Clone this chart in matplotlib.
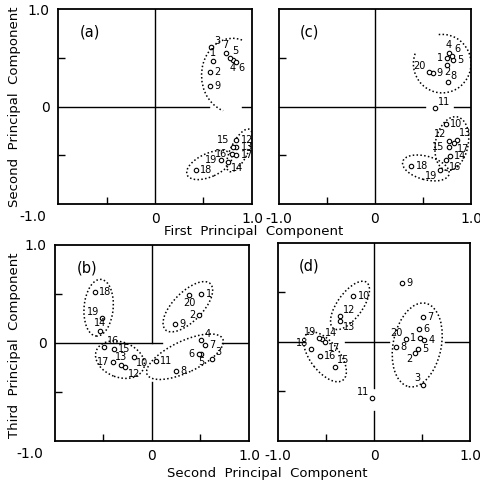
import matplotlib
matplotlib.use("Agg")
import matplotlib.pyplot as plt
from matplotlib.patches import Ellipse, Arc

# (a) first vs second principal component
ids_a = [1, 2, 3, 4, 5, 6, 7, 9, 12, 13, 14, 15, 16, 17, 18, 19]
pc1_a = [0.60, 0.57, 0.58, 0.80, 0.77, 0.83, 0.73, 0.57, 0.84, 0.84, 0.755, 0.80, 0.79, 0.84, 0.42, 0.68]
pc2_a = [0.47, 0.35, 0.61, 0.48, 0.50, 0.46, 0.55, 0.21, -0.34, -0.42, -0.57, -0.41, -0.49, -0.50, -0.65, -0.55]

# (c) first vs second principal component
ids_c = [1, 2, 4, 5, 6, 8, 9, 20, 11, 10, 12, 13, 17, 15, 14, 16, 18, 19]
pc1_c = [0.75, 0.75, 0.77, 0.81, 0.80, 0.76, 0.60, 0.56, 0.625, 0.74, 0.77, 0.85, 0.82, 0.77, 0.78, 0.74, 0.38, 0.68]
pc2_c = [0.50, 0.43, 0.55, 0.48, 0.52, 0.25, 0.34, 0.35, -0.02, -0.18, -0.35, -0.34, -0.37, -0.42, -0.51, -0.55, -0.61, -0.65]

# (b) second vs third principal component
ids_b = [1, 2, 3, 4, 5, 6, 7, 8, 9, 10, 11, 12, 13, 14, 15, 16, 17, 18, 19, 20]
pc2_b = [0.51, 0.49, 0.62, 0.51, 0.51, 0.48, 0.55, 0.25, 0.24, -0.19, 0.04, -0.28, -0.32, -0.54, -0.39, -0.49, -0.40, -0.59, -0.52, 0.385]
pc3_b = [0.50, 0.29, -0.16, 0.03, -0.11, -0.11, -0.02, -0.29, 0.19, -0.14, -0.18, -0.25, -0.22, 0.12, -0.06, -0.04, -0.19, 0.52, 0.25, 0.49]

# (d) second vs third principal component
ids_d = [1, 2, 3, 4, 5, 6, 7, 8, 9, 10, 11, 12, 13, 14, 15, 16, 17, 18, 19, 20]
pc2_d = [0.48, 0.43, 0.51, 0.52, 0.46, 0.47, 0.51, 0.23, 0.29, -0.215, -0.02, -0.35, -0.35, -0.545, -0.41, -0.56, -0.51, -0.66, -0.57, 0.33]
pc3_d = [0.04, -0.11, -0.43, 0.02, -0.07, 0.13, 0.25, -0.05, 0.60, 0.46, -0.57, 0.26, 0.215, 0.03, -0.25, -0.14, 0.00, -0.07, 0.04, 0.03]

# where each number sits relative to its circle
OFFS = {'r': (3, 0, 'left', 'center'), 'l': (-3, 0, 'right', 'center'),
        'u': (0, 2, 'center', 'bottom'), 'd': (0, -2, 'center', 'top'),
        'ur': (2, 1, 'left', 'bottom'), 'dr': (2, -1, 'left', 'top'),
        'ul': (-2, 1, 'right', 'bottom'), 'dl': (-2, -1, 'right', 'top')}

lab_a = {1: 'u', 2: 'r', 3: 'ur', 4: 'd', 5: 'ur', 6: 'dr', 7: 'u', 9: 'r', 12: 'r', 13: 'r',
         14: 'dr', 15: 'ul', 16: 'l', 17: 'r', 18: 'r', 19: 'l'}
lab_c = {1: 'l', 2: 'd', 4: 'u', 5: 'r', 6: 'ur', 8: 'ur', 9: 'r', 20: 'ul', 11: 'ur', 10: 'r',
         12: 'ul', 13: 'ur', 17: 'dr', 15: 'l', 14: 'r', 16: 'dr', 18: 'r', 19: 'dl'}
lab_b = {1: 'r', 2: 'l', 3: 'ur', 4: 'ur', 5: 'd', 6: 'l', 7: 'r', 8: 'r', 9: 'r', 10: 'dr',
         11: 'r', 12: 'dr', 13: 'u', 14: 'u', 15: 'r', 16: 'ur', 17: 'l', 18: 'r', 19: 'ul', 20: 'd'}
lab_d = {1: 'l', 2: 'dl', 3: 'ul', 4: 'r', 5: 'r', 6: 'r', 7: 'r', 8: 'r', 9: 'r', 10: 'r',
         11: 'ul', 12: 'ur', 13: 'dr', 14: 'ur', 15: 'ur', 16: 'r', 17: 'dr', 18: 'ul', 19: 'ul', 20: 'ul'}

# dotted group outlines: (cx, cy, width, height, angle[, theta1, theta2])
loops_a = [(0.80, 0.32, 0.64, 0.76, 0, 75, 255), (0.87, -0.45, 0.48, 0.18, 64), (0.56, -0.60, 0.50, 0.24, 24)]
loops_c = [(0.70, 0.44, 0.60, 0.60, 0, -200, 100), (0.80, -0.38, 0.34, 0.56, -12), (0.53, -0.63, 0.50, 0.24, -15)]
loops_b = [(-0.55, 0.36, 0.30, 0.58, -5), (-0.33, -0.17, 0.52, 0.36, -20),
           (0.37, 0.37, 0.66, 0.30, 45), (0.34, -0.14, 0.86, 0.32, 25)]
loops_d = [(-0.25, 0.37, 0.58, 0.26, 53), (-0.51, -0.15, 0.60, 0.30, -51), (0.45, -0.03, 0.50, 0.86, -12)]

# zero lines are broken in the original where the loops cross
hgap = {'a': [(0, 0.78), (0.95, 1)], 'c': [(0, 0.76), (0.91, 1)],
        'b': [(0, 0.55), (0.86, 1)], 'd': [(0, 0.14), (0.35, 0.58), (0.87, 1)]}
vgap = {'a': [(0, 1)], 'c': [(0, 1)], 'b': [(0, 0.3), (0.5, 1)], 'd': [(0, 0.15), (0.27, 1)]}

plt.rcParams['font.family'] = 'DejaVu Sans'
fig = plt.figure(figsize=(4.81, 4.86), dpi=100)

panels = [
    ('a', [0.1206, 0.5802, 0.4033, 0.4012], ids_a, pc1_a, pc2_a, lab_a, loops_a, True),
    ('c', [0.5800, 0.5802, 0.3992, 0.4012], ids_c, pc1_c, pc2_c, lab_c, loops_c, False),
    ('b', [0.1143, 0.0926, 0.4033, 0.4033], ids_b, pc2_b, pc3_b, lab_b, loops_b, True),
    ('d', [0.5780, 0.0926, 0.3992, 0.4074], ids_d, pc2_d, pc3_d, lab_d, loops_d, False),
]

for name, rect, ids, xs, ys, labs, loops, left in panels:
    ax = fig.add_axes(rect)
    ax.set_xlim(-1, 1)
    ax.set_ylim(-1, 1)
    for s in ax.spines.values():
        s.set_linewidth(1.3)
    for a, b in hgap[name]:
        ax.axhline(0, xmin=a, xmax=b, color='black', lw=1.0)
    for a, b in vgap[name]:
        ax.axvline(0, ymin=a, ymax=b, color='black', lw=1.0)

    ax.plot(xs, ys, 'o', ms=3.2, mfc='white', mec='black', mew=0.8, zorder=3)
    for i, x, y in zip(ids, xs, ys):
        dx, dy, ha, va = OFFS[labs[i]]
        ax.annotate(str(i), (x, y), xytext=(dx, dy), textcoords='offset points',
                    ha=ha, va=va, fontsize=7, zorder=4)

    for lp in loops:
        if len(lp) == 7:
            p = Arc(lp[:2], lp[2], lp[3], angle=lp[4], theta1=lp[5], theta2=lp[6],
                    ls=(0, (1, 1.5)), lw=1.1, color='black')
        else:
            p = Ellipse(lp[:2], lp[2], lp[3], angle=lp[4], fill=False,
                        ls=(0, (1, 1.5)), lw=1.1, color='black')
        ax.add_patch(p)

    ax.set_xticks([-1, 0, 1])
    ax.set_xticklabels(['', '0', '1.0'] if left else ['-1.0', '0', '1.0'])
    ax.set_yticks([-1, 0, 1])
    ax.set_yticklabels(['', '0', '1.0'] if left else [])
    ax.set_xticks([-0.5, 0.5], minor=True)
    ax.set_yticks([-0.5, 0.5], minor=True)
    ax.tick_params(which='major', length=0, labelsize=10, pad=6)
    ax.tick_params(which='minor', direction='in', length=5, width=1.0)
    if left:
        ax.text(-1.12, -1.06, '-1.0', ha='right', va='top', fontsize=10)
    ax.text(0.11, 0.86, '(%s)' % name, transform=ax.transAxes, fontsize=10.5)

fig.text(0.031, 0.78, 'Second  Principal  Component', rotation=90, ha='center', va='center', fontsize=9.5)
fig.text(0.528, 0.524, 'First  Principal  Component', ha='center', va='center', fontsize=9.5)
fig.text(0.031, 0.29, 'Third  Principal  Component', rotation=90, ha='center', va='center', fontsize=9.5)
fig.text(0.555, 0.025, 'Second  Principal  Component', ha='center', va='center', fontsize=9.5)

fig.savefig('out.png', dpi=100)
